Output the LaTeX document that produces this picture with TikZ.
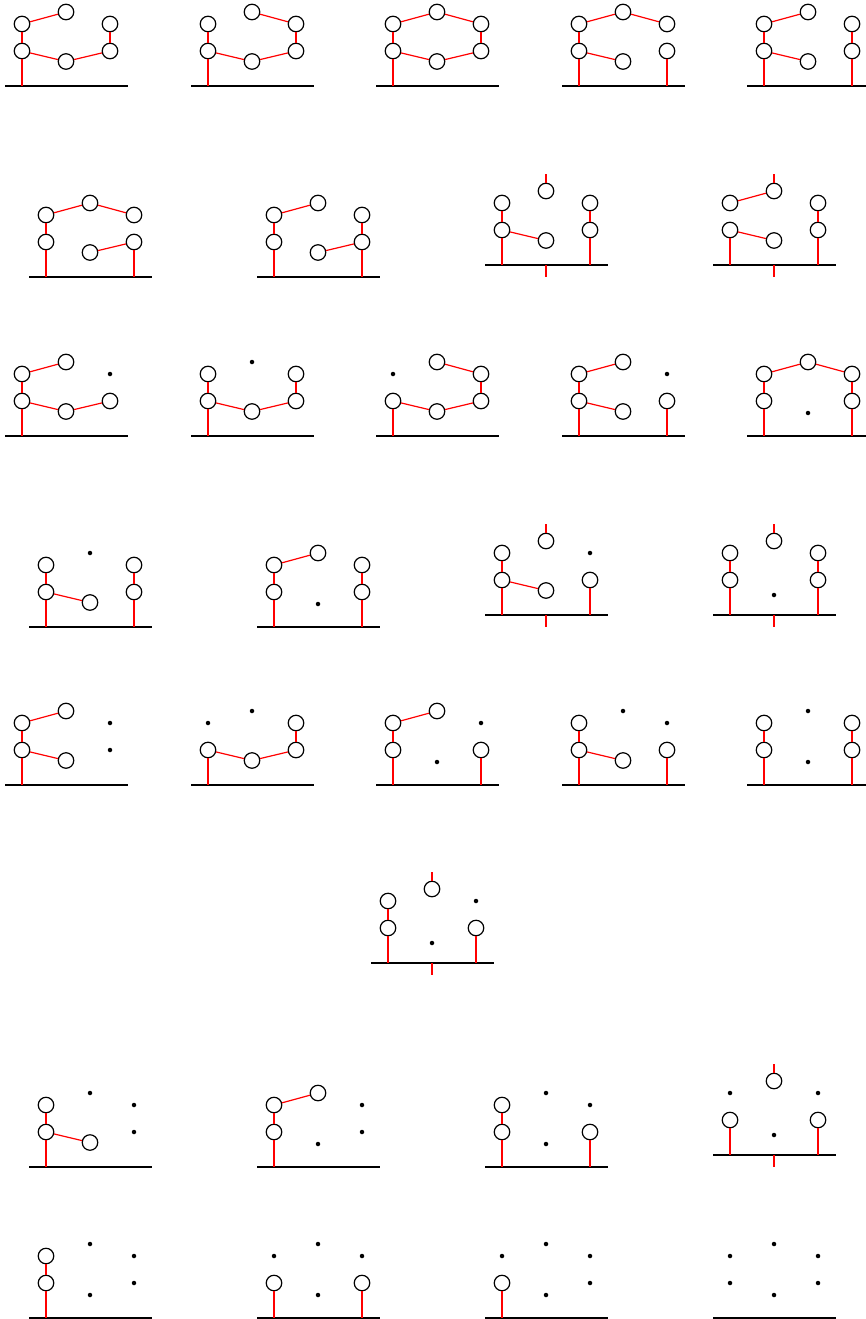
\documentclass[tikz,border=0pt]{standalone}
\begin{document}
\begin{tikzpicture}[x=1pt,y=-1pt,
  site/.style={circle,draw=black,line width=1.2pt,fill=white,minimum size=15.5pt,inner sep=0pt},
  pt/.style={circle,fill=black,draw=none,minimum size=4.5pt,inner sep=0pt},
  bond/.style={draw=red,line width=1.2pt},
  base/.style={draw=black,line width=1.4pt}]
\useasboundingbox (0,0) rectangle (866,1319);
\def\msite{24.5}\def\mpt{23}
\newcommand\dg[9]{%
  \path (#2-17,#3) coordinate (#1bl) (#2+106,#3) coordinate (#1br)
        (#2,#3) coordinate (#1Lg) (#2+44,#3) coordinate (#1Mg) (#2+88,#3) coordinate (#1Rg);
  \draw[base] (#1bl) -- (#1br);
  \node[#4] (#1L1) at (#2,#3-35) {};
  \node[#5] (#1L2) at (#2,#3-62) {};
  \node[#6] (#1M1) at (#2+44,#3-\csname m#6\endcsname) {};
  \node[#7] (#1M2) at (#2+44,#3-74) {};
  \node[#8] (#1R1) at (#2+88,#3-35) {};
  \node[#9] (#1R2) at (#2+88,#3-62) {};}
\newcommand\bd[2]{\foreach \u/\v in {#2}{\draw[bond] (#1\u) -- (#1\v);}}
\newcommand\gd[2]{\foreach \u in {#2}{\draw[bond] (#1\u1) -- (#1\u g);}}
\newcommand\tk[1]{\draw[bond] (#1M2.north) -- ++(0,-9); \draw[bond] (#1Mg) -- ++(0,12);}
% Row 1
\dg{a}{22}{86}{site}{site}{site}{site}{site}{site}
\bd{a}{L1/L2,L2/M2,L1/M1,M1/R1,R1/R2}\gd{a}{L}
\dg{b}{208}{86}{site}{site}{site}{site}{site}{site}
\bd{b}{L1/L2,L1/M1,M1/R1,R1/R2,M2/R2}\gd{b}{L}
\dg{c}{393}{86}{site}{site}{site}{site}{site}{site}
\bd{c}{L1/L2,L2/M2,M2/R2,R2/R1,L1/M1,M1/R1}\gd{c}{L}
\dg{d}{579}{86}{site}{site}{site}{site}{site}{site}
\bd{d}{L1/L2,L2/M2,M2/R2,L1/M1}\gd{d}{L,R}
\dg{e}{764}{86}{site}{site}{site}{site}{site}{site}
\bd{e}{L1/L2,L2/M2,L1/M1,R1/R2}\gd{e}{L,R}
% Row 2
\dg{f}{46}{277}{site}{site}{site}{site}{site}{site}
\bd{f}{L1/L2,L2/M2,M2/R2,M1/R1}\gd{f}{L,R}
\dg{g}{274}{277}{site}{site}{site}{site}{site}{site}
\bd{g}{L1/L2,L2/M2,M1/R1,R1/R2}\gd{g}{L,R}
\begin{scope}\def\mpt{20}
\dg{h}{502}{265}{site}{site}{site}{site}{site}{site}
\bd{h}{L1/L2,L1/M1,R1/R2}\gd{h}{L,R}\tk{h}
\dg{i}{730}{265}{site}{site}{site}{site}{site}{site}
\bd{i}{L2/M2,L1/M1,R1/R2}\gd{i}{L,R}\tk{i}
\end{scope}
% Row 3
\dg{j}{22}{436}{site}{site}{site}{site}{site}{pt}
\bd{j}{L1/L2,L2/M2,L1/M1,M1/R1}\gd{j}{L}
\dg{k}{208}{436}{site}{site}{site}{pt}{site}{site}
\bd{k}{L1/L2,L1/M1,M1/R1,R1/R2}\gd{k}{L}
\dg{l}{393}{436}{site}{pt}{site}{site}{site}{site}
\bd{l}{M2/R2,R2/R1,L1/M1,M1/R1}\gd{l}{L}
\dg{m}{579}{436}{site}{site}{site}{site}{site}{pt}
\bd{m}{L1/L2,L2/M2,L1/M1}\gd{m}{L,R}
\dg{n}{764}{436}{site}{site}{pt}{site}{site}{site}
\bd{n}{L1/L2,L2/M2,M2/R2,R1/R2}\gd{n}{L,R}
% Row 4
\dg{o}{46}{627}{site}{site}{site}{pt}{site}{site}
\bd{o}{L1/L2,L1/M1,R1/R2}\gd{o}{L,R}
\dg{p}{274}{627}{site}{site}{pt}{site}{site}{site}
\bd{p}{L1/L2,L2/M2,R1/R2}\gd{p}{L,R}
\begin{scope}\def\mpt{20}
\dg{q}{502}{615}{site}{site}{site}{site}{site}{pt}
\bd{q}{L1/L2,L1/M1}\gd{q}{L,R}\tk{q}
\dg{r}{730}{615}{site}{site}{pt}{site}{site}{site}
\bd{r}{L1/L2,R1/R2}\gd{r}{L,R}\tk{r}
\end{scope}
% Row 5
\dg{s}{22}{785}{site}{site}{site}{site}{pt}{pt}
\bd{s}{L1/L2,L2/M2,L1/M1}\gd{s}{L}
\dg{t}{208}{785}{site}{pt}{site}{pt}{site}{site}
\bd{t}{L1/M1,M1/R1,R1/R2}\gd{t}{L}
\dg{u}{393}{785}{site}{site}{pt}{site}{site}{pt}
\bd{u}{L1/L2,L2/M2}\gd{u}{L,R}
\dg{v}{579}{785}{site}{site}{site}{pt}{site}{pt}
\bd{v}{L1/L2,L1/M1}\gd{v}{L,R}
\dg{w}{764}{785}{site}{site}{pt}{pt}{site}{site}
\bd{w}{L1/L2,R1/R2}\gd{w}{L,R}
% Row 6
\begin{scope}\def\mpt{20}
\dg{x}{388}{963}{site}{site}{pt}{site}{site}{pt}
\bd{x}{L1/L2}\gd{x}{L,R}\tk{x}
\end{scope}
% Row 7
\dg{y}{46}{1167}{site}{site}{site}{pt}{pt}{pt}
\bd{y}{L1/L2,L1/M1}\gd{y}{L}
\dg{z}{274}{1167}{site}{site}{pt}{site}{pt}{pt}
\bd{z}{L1/L2,L2/M2}\gd{z}{L}
\dg{aa}{502}{1167}{site}{site}{pt}{pt}{site}{pt}
\bd{aa}{L1/L2}\gd{aa}{L,R}
\begin{scope}\def\mpt{20}
\dg{ab}{730}{1155}{site}{pt}{pt}{site}{site}{pt}
\gd{ab}{L,R}\tk{ab}
\end{scope}
% Row 8
\dg{ac}{46}{1318}{site}{site}{pt}{pt}{pt}{pt}
\bd{ac}{L1/L2}\gd{ac}{L}
\dg{ad}{274}{1318}{site}{pt}{pt}{pt}{site}{pt}
\gd{ad}{L,R}
\dg{ae}{502}{1318}{site}{pt}{pt}{pt}{pt}{pt}
\gd{ae}{L}
\dg{af}{730}{1318}{pt}{pt}{pt}{pt}{pt}{pt}
\end{tikzpicture}
\end{document}
